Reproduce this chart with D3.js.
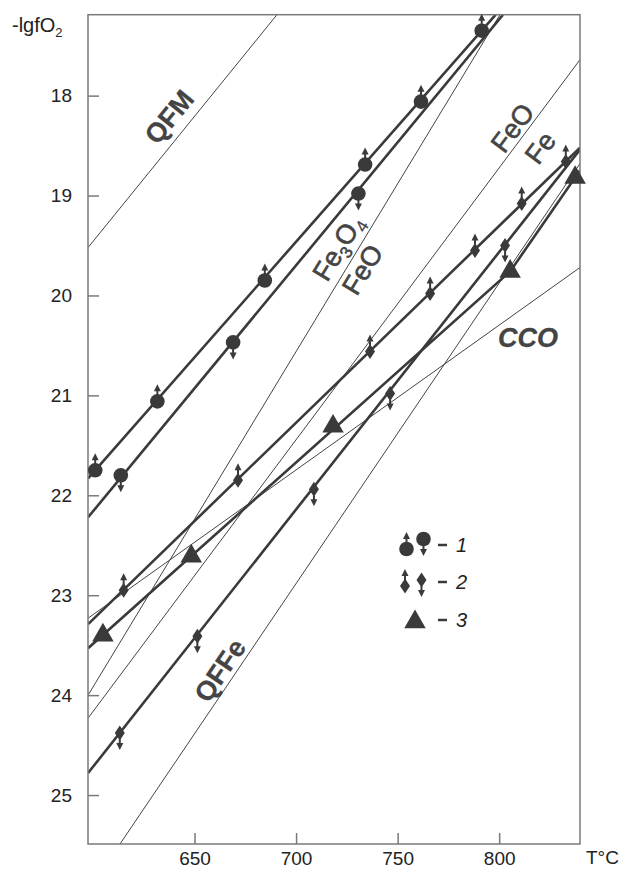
<!DOCTYPE html>
<html>
<head>
<meta charset="utf-8">
<script src="https://cdn.jsdelivr.net/npm/d3@7"></script>
<style>
body { margin: 0; background: #fff; }
svg { display: block; font-family: "Liberation Sans", Arial, sans-serif; }
</style>
</head>
<body>
<script>

var xTicks = [650, 700, 750, 800];
var yTicks = [18, 19, 20, 21, 22, 23, 24, 25];

// thin buffer lines, points are [T, -lgfO2]
var lineQFM   = [[597.6, 19.52], [690.6, 17.19]];
var lineMtWus = [[597.6, 24.00], [800.4, 17.19]];
var lineWusFe = [[597.6, 24.23], [839.8, 17.64]];
var lineCCO   = [[597.6, 23.23], [839.8, 19.72]];
var lineQFFe  = [[613.3, 25.49], [839.8, 18.68]];

// thick lines drawn through the measurements
var fit1a = [[597.6, 21.83], [798.3, 17.19]];
var fit1b = [[597.6, 22.22], [801.9, 17.19]];
var fit2a = [[597.6, 23.29], [839.8, 18.52]];
var fit2b = [[597.6, 24.78], [839.8, 18.54]];
var fit3  = [[597.6, 23.53], [805.4, 19.76], [839.8, 18.75]];

// measured points
var s1up   = [[601.1, 21.75], [631.7, 21.06], [684.6, 19.85], [734.0, 18.69], [761.5, 18.06], [791.4, 17.35]];
var s1down = [[613.7, 21.80], [669.0, 20.47], [730.7, 18.98]];
var s2up   = [[615.1, 22.95], [671.4, 21.85], [736.4, 20.56], [766.0, 19.98], [788.1, 19.55], [811.1, 19.08], [832.8, 18.66]];
var s2down = [[613.2, 24.38], [651.4, 23.41], [708.8, 21.94], [746.3, 20.98], [802.9, 19.50]];
var s3     = [[604.9, 23.40], [648.4, 22.61], [718.2, 21.31], [805.4, 19.76], [837.4, 18.82]];

// buffer names and where they sit [T, -lgfO2]
var labelNames = ["QFM", "Fe3O4", "FeO", "FeO", "Fe", "CCO", "QFFe"];
var labelAt    = [[637.4, 18.21], [720.4, 19.52], [732.5, 19.74], [806.4, 18.32], [820.1, 18.52], [814.2, 20.42], [662.4, 23.75]];
var labelLine  = [lineQFM, lineMtWus, lineMtWus, lineWusFe, lineWusFe, null, lineQFFe];

var legendNames = ["1", "2", "3"];

var W = 626, H = 870;
var x = d3.scaleLinear().domain([597.55, 839.8]).range([88, 580]);
var y = d3.scaleLinear().domain([17.19, 25.49]).range([14.7, 844]);

var ink = "#3a3a3a";

var svg = d3.select("body").append("svg")
    .attr("width", W)
    .attr("height", H);

svg.append("defs").append("clipPath")
    .attr("id", "clip")
  .append("rect")
    .attr("x", 88).attr("y", 14.7)
    .attr("width", 492).attr("height", 829.3);

var line = d3.line()
    .x(function(d) { return x(d[0]); })
    .y(function(d) { return y(d[1]); });

var plot = svg.append("g").attr("clip-path", "url(#clip)");

// thin buffer lines
[lineQFM, lineMtWus, lineWusFe, lineCCO, lineQFFe].forEach(function(l) {
  plot.append("path")
      .datum(l)
      .attr("fill", "none")
      .attr("stroke", "#444")
      .attr("stroke-width", 1)
      .attr("d", line);
});

// thick lines
[fit1a, fit1b, fit2a, fit2b, fit3].forEach(function(l) {
  plot.append("path")
      .datum(l)
      .attr("fill", "none")
      .attr("stroke", ink)
      .attr("stroke-width", 2.6)
      .attr("stroke-linejoin", "round")
      .attr("d", line);
});

// frame
svg.append("rect")
    .attr("x", 88).attr("y", 14.7)
    .attr("width", 492).attr("height", 829.3)
    .attr("fill", "none")
    .attr("stroke", "#7a7a7a")
    .attr("stroke-width", 1.5);

// axes, ticks pointing inward
var yAxis = svg.append("g")
    .attr("transform", "translate(88,0)")
    .call(d3.axisLeft(y).tickValues(yTicks).tickSizeInner(-11).tickSizeOuter(0).tickPadding(16));
var xAxis = svg.append("g")
    .attr("transform", "translate(0,844)")
    .call(d3.axisBottom(x).tickValues(xTicks).tickSizeInner(-11).tickSizeOuter(0).tickPadding(8));

[xAxis, yAxis].forEach(function(a) {
  a.select(".domain").remove();
  a.selectAll(".tick line").attr("stroke", "#7a7a7a").attr("stroke-width", 1.5);
  a.selectAll(".tick text")
      .attr("fill", "#222")
      .style("font-size", "19px")
      .style("font-family", "'Liberation Sans', Arial, sans-serif");
});

// axis titles
var yt = svg.append("text")
    .attr("x", 12).attr("y", 32)
    .attr("fill", "#222")
    .style("font-size", "20px");
yt.append("tspan").text("-lgfO");
yt.append("tspan").attr("dy", 5).style("font-size", "13px").text("2");

svg.append("text")
    .attr("x", 586).attr("y", 864)
    .attr("fill", "#222")
    .style("font-size", "19px")
    .text("T\u00b0C");

// markers
function arrow(g, cx, cy, dir, off) {
  // dir = -1 up, +1 down
  g.append("line")
      .attr("x1", cx).attr("y1", cy + dir * (off - 1))
      .attr("x2", cx).attr("y2", cy + dir * (off + 4))
      .attr("stroke", ink).attr("stroke-width", 2);
  g.append("path")
      .attr("d", "M" + (cx - 3.5) + "," + (cy + dir * (off + 3)) +
                 "L" + (cx + 3.5) + "," + (cy + dir * (off + 3)) +
                 "L" + cx + "," + (cy + dir * (off + 10)) + "Z")
      .attr("fill", ink);
}

function circleMark(g, cx, cy, dir) {
  g.append("circle").attr("cx", cx).attr("cy", cy).attr("r", 7.3).attr("fill", ink);
  arrow(g, cx, cy, dir, 7);
}

function diamondMark(g, cx, cy, dir) {
  g.append("path")
      .attr("d", "M" + cx + "," + (cy - 7.5) + "L" + (cx + 5) + "," + cy +
                 "L" + cx + "," + (cy + 7.5) + "L" + (cx - 5) + "," + cy + "Z")
      .attr("fill", ink);
  arrow(g, cx, cy, dir, 7);
}

function triMark(g, cx, cy) {
  g.append("path")
      .attr("transform", "translate(" + cx + "," + cy + ")")
      .attr("d", d3.symbol(d3.symbolTriangle, 200)())
      .attr("fill", ink);
}

var marks = svg.append("g");
s1up.forEach(function(d) { circleMark(marks, x(d[0]), y(d[1]), -1); });
s1down.forEach(function(d) { circleMark(marks, x(d[0]), y(d[1]), 1); });
s2up.forEach(function(d) { diamondMark(marks, x(d[0]), y(d[1]), -1); });
s2down.forEach(function(d) { diamondMark(marks, x(d[0]), y(d[1]), 1); });
s3.forEach(function(d) { triMark(marks, x(d[0]), y(d[1])); });

// buffer labels, turned along their lines
labelNames.forEach(function(name, i) {
  var px = x(labelAt[i][0]), py = y(labelAt[i][1]);
  var l = labelLine[i], ang = 0;
  if (l) {
    ang = Math.atan2(y(l[1][1]) - y(l[0][1]), x(l[1][0]) - x(l[0][0])) * 180 / Math.PI;
  }
  var t = svg.append("text")
      .attr("transform", "translate(" + px + "," + py + ") rotate(" + ang + ")")
      .attr("text-anchor", "middle")
      .attr("dy", "0.36em")
      .attr("fill", "#444")
      .attr("stroke", "#444")
      .attr("stroke-width", 0.6)
      .style("font-size", "27px");
  if (name == "Fe3O4") {
    t.append("tspan").text("Fe");
    t.append("tspan").attr("dy", 6).style("font-size", "17px").text("3");
    t.append("tspan").attr("dy", -6).text("O");
    t.append("tspan").attr("dy", 6).style("font-size", "17px").attr("stroke-width", 0.3).text("4");
  } else {
    t.text(name);
  }
  if (name == "QFM" || name == "QFFe" || name == "CCO") t.style("font-weight", "bold").attr("stroke-width", 0.3);
  if (name == "CCO") t.style("font-style", "italic");
});

// legend
var lg = svg.append("g");
circleMark(lg, 406.5, 549, -1);
circleMark(lg, 423.5, 539, 1);
diamondMark(lg, 405, 586, -1);
diamondMark(lg, 421.5, 580, 1);
triMark(lg, 415, 622);
legendNames.forEach(function(n, i) {
  var ly = [545, 582, 620][i];
  lg.append("line")
      .attr("x1", 438).attr("x2", 447)
      .attr("y1", ly).attr("y2", ly)
      .attr("stroke", ink).attr("stroke-width", 2.5);
  lg.append("text")
      .attr("x", 456).attr("y", ly + 7)
      .attr("fill", "#222")
      .style("font-size", "20px")
      .style("font-style", "italic")
      .text(n);
});

</script>
</body>
</html>
